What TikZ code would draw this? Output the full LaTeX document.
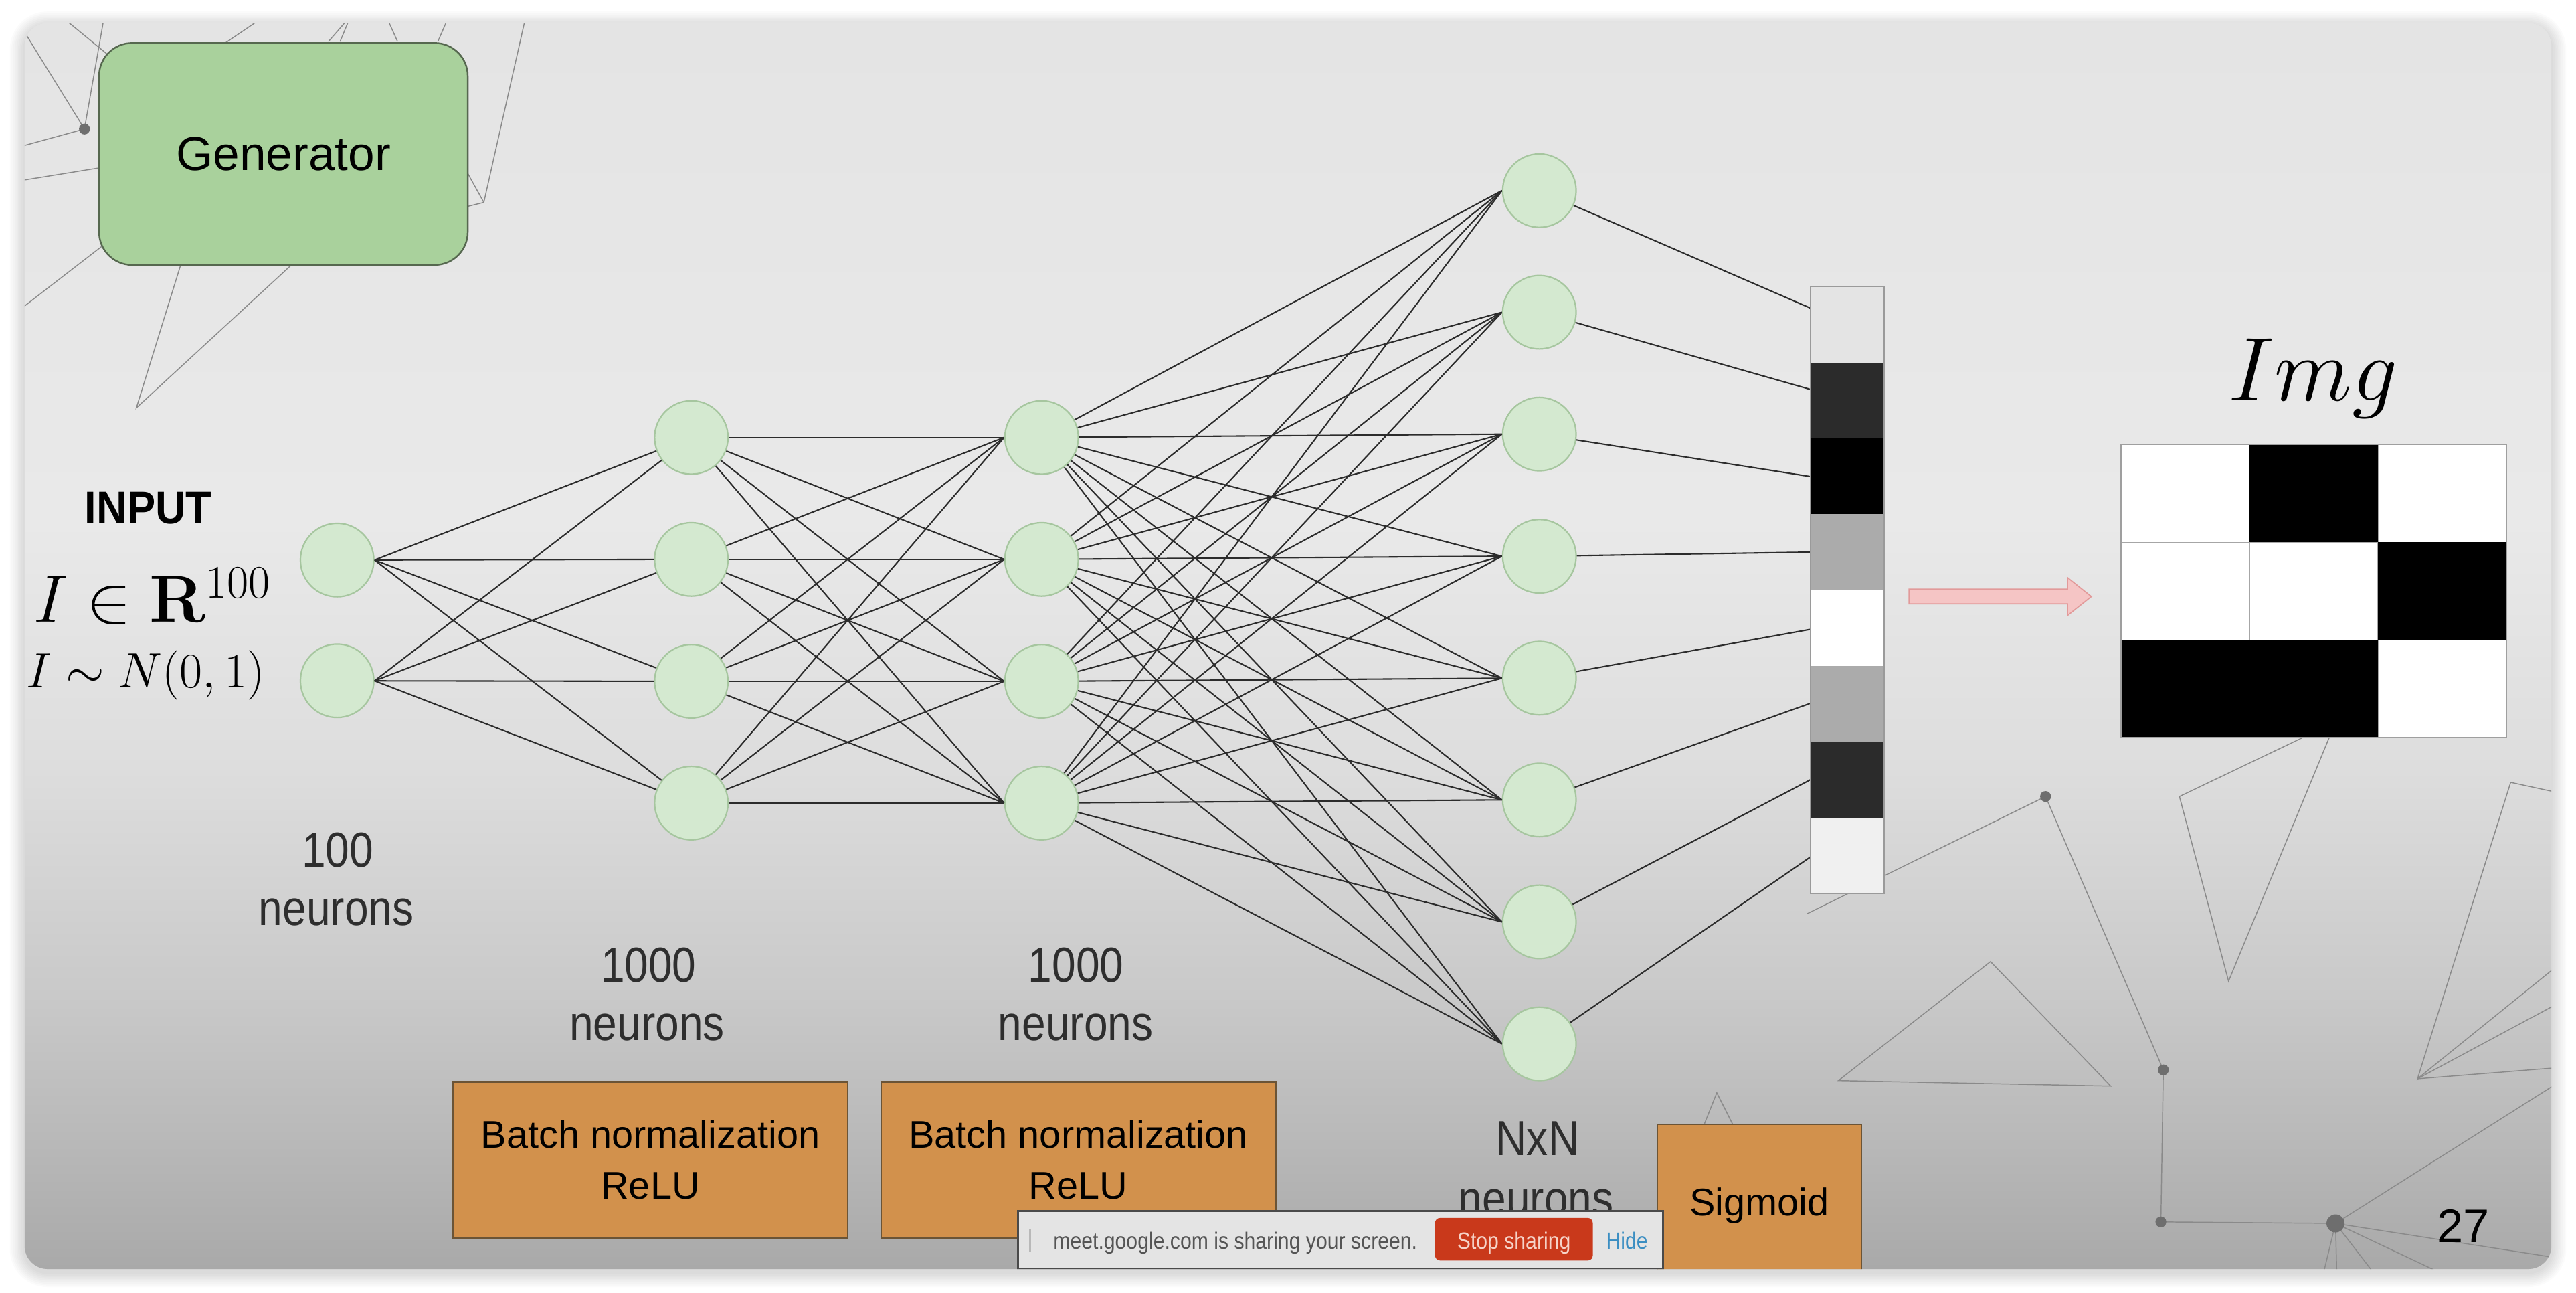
\RequirePackage{fix-cm}
\documentclass[tikz,border=0pt]{standalone}
\usepackage[no-math]{fontspec}
\newfontfamily\arial{Liberation Sans}
\newfontfamily\arialn[FakeStretch=0.87]{Liberation Sans}
\newfontfamily\arialbn[FakeStretch=0.92]{Liberation Sans}
\newfontfamily\meetf[FakeStretch=0.86]{Liberation Sans}
\definecolor{bgA}{HTML}{A9A9A9}
\definecolor{bgB}{HTML}{B8B8B8}
\definecolor{bgC}{HTML}{C9C9C9}
\definecolor{bgD}{HTML}{DDDDDD}
\definecolor{bgE}{HTML}{E9E9E9}
\definecolor{bgF}{HTML}{E4E4E4}
\definecolor{neurfill}{HTML}{D4E9D0}
\definecolor{neurdraw}{HTML}{A6C69F}
\definecolor{edgecol}{HTML}{2C2C2C}
\definecolor{decocol}{HTML}{8A8A8A}
\definecolor{dotcol}{HTML}{6E6E6E}
\definecolor{genfill}{HTML}{A9D19C}
\definecolor{gendraw}{HTML}{56684F}
\definecolor{oboxfill}{HTML}{D2914C}
\definecolor{oboxdraw}{HTML}{6B5436}
\definecolor{lblcol}{HTML}{2E2E2E}
\definecolor{barline}{HTML}{9A9A9A}
\definecolor{cellA}{HTML}{E4E4E4}
\definecolor{cellB}{HTML}{2B2B2B}
\definecolor{cellC}{HTML}{ABABAB}
\definecolor{cellD}{HTML}{F0F0F0}
\definecolor{pinkfill}{HTML}{F5C5C5}
\definecolor{pinkdraw}{HTML}{E29A9A}
\definecolor{meetfill}{HTML}{E4E4E4}
\definecolor{meetdraw}{HTML}{4A4A4A}
\definecolor{meettext}{HTML}{555555}
\definecolor{stopred}{HTML}{C9391B}
\definecolor{stoptext}{HTML}{F6D3C8}
\definecolor{hideblue}{HTML}{3B8EC2}
\pgfdeclareverticalshading{slidebg}{100bp}{color(0bp)=(bgA); color(25bp)=(bgA); color(30bp)=(bgB); color(36bp)=(bgC); color(45bp)=(bgD); color(55bp)=(bgE); color(75bp)=(bgF); color(100bp)=(bgF)}
\begin{document}
\begin{tikzpicture}[x=1pt,y=-1pt,
  neuron/.style={circle, minimum size=45pt, inner sep=0pt, fill=neurfill, draw=neurdraw, line width=0.6pt},
  edge/.style={draw=edgecol, line width=0.85pt},
  deco/.style={draw=decocol, line width=0.6pt},
  decodot/.style={fill=dotcol},
  obox/.style={draw=oboxdraw, fill=oboxfill, line width=1pt, inner sep=0pt, align=center, minimum width=240.2pt, minimum height=95.2pt, font=\arial\fontsize{23.5}{31}\selectfont},
  lbl/.style={font=\arialn\fontsize{30}{36}\selectfont, text=lblcol, inner sep=0pt, anchor=base},
  mathlbl/.style={inner sep=0pt, anchor=base west},
  meettxt/.style={font=\meetf\fontsize{14.3}{16}\selectfont, inner sep=0pt, anchor=base west}
]
\useasboundingbox (0,0) rectangle (1568,786.8);
\fill[white] (0,0) rectangle (1568,786.8);
% shadow
\foreach \k in {1,...,9}
  \fill[black, opacity=0.015, rounded corners=14pt+\k pt] (15-\k,14-\k+2) rectangle (1553+\k,772.2+\k+2);
% slide background
\shade[shading=slidebg, rounded corners=14pt] (15,14) rectangle (1553,772.2);
\begin{scope}
\clip[rounded corners=14pt] (15,14) rectangle (1553,772.2);
% decorative lines top-left
\draw[deco] (39.7,12) -- (80,45);
\draw[deco] (63.1,12) -- (51.4,78.5);
\draw[deco] (16.4,21.9) -- (51.4,78.5) -- (12,89.3);
\draw[deco] (12,110) -- (80,99);
\draw[deco] (12,188.5) -- (80,136);
\draw[deco] (115,145) -- (83,248.2) -- (195,145);
\draw[deco] (130,31) -- (158,12);
\draw[deco] (199.9,25.3) -- (211.5,12);
\draw[deco] (207,25.3) -- (212.5,12);
\draw[deco] (236,12) -- (242,25.3);
\draw[deco] (266.5,25.3) -- (272.3,12);
\draw[deco] (319.6,12) -- (294.5,123.2) -- (275,88);
\draw[deco] (294.5,123.2) -- (275,128);
\fill[decodot] (51.4,78.5) circle (3.3);
% decorative lines bottom-right
\coordinate (dA) at (1245.1,484.7);
\coordinate (dB) at (1316.8,651.1);
\coordinate (dC) at (1315.3,743.6);
\coordinate (dD) at (1421.6,744.5);
\draw[deco] (dA) -- (1100,556);
\draw[deco] (dA) -- (dB) -- (dC) -- (dD);
\draw[deco] (dD) -- (1560,657);
\draw[deco] (dD) -- (1560,766);
\draw[deco] (dD) -- (1413,780);
\draw[deco] (dD) -- (1422.5,780);
\draw[deco] (dD) -- (1449,780);
\draw[deco] (dD) -- (1497,780);
\draw[deco] (1211.6,585.2) -- (1119,657.6) -- (1284.8,660.9) -- cycle;
\draw[deco] (1401.3,449) -- (1326.6,484.7) -- (1356.5,597.1) -- (1417.7,449);
\draw[deco] (1560,483) -- (1528.2,476.1) -- (1471.5,656.5) -- (1560,585);
\draw[deco] (1471.5,656.5) -- (1560,609);
\draw[deco] (1471.5,656.5) -- (1560,649.5);
\draw[deco] (1036.6,686) -- (1045,665) -- (1055.6,686);
\fill[decodot] (dA) circle (3.3);
\fill[decodot] (dB) circle (3.3);
\fill[decodot] (dC) circle (3.3);
\fill[decodot] (dD) circle (5.5);

% Generator
\node[draw=gendraw, fill=genfill, line width=1pt, rounded corners=20pt, minimum width=224.4pt, minimum height=135pt, inner sep=0pt, font=\arial\fontsize{29}{34}\selectfont] (gen) at (172.5,93.7) {Generator};

% neurons
\node[neuron] (a1) at (205.2,340.8) {};
\node[neuron] (a2) at (205.2,414.3) {};
\foreach \j/\yy in {1/266.2,2/340.4,3/414.6,4/488.7} {
  \node[neuron] (b\j) at (420.8,\yy) {};
  \node[neuron] (c\j) at (634,\yy) {};
}
\foreach \j/\yy in {1/116,2/190,3/264.2,4/338.5,5/412.7,6/486.8,7/561,8/635.2}
  \node[neuron] (d\j) at (937,\yy) {};
% bar target points
\foreach \j/\yy in {1/187.5,2/237,3/290,4/336,5/383,6/428,7/474.5,8/521.5}
  \coordinate (p\j) at (1102,\yy);
% edges
\foreach \i in {1,2} \foreach \j in {1,...,4} \draw[edge] (a\i.east) -- (b\j);
\foreach \i in {1,...,4} \foreach \j in {1,...,4} \draw[edge] (b\i) -- (c\j.west);
\foreach \i in {1,...,4} \foreach \j in {1,...,8} \draw[edge] (c\i) -- (d\j.west);
\foreach \j in {1,...,8} \draw[edge] (d\j) -- (p\j);
% redraw neurons on top
\foreach \n in {a1,a2,b1,b2,b3,b4,c1,c2,c3,c4,d1,d2,d3,d4,d5,d6,d7,d8}
  \fill[neurfill] (\n) circle (22.2);
\foreach \n in {a1,a2,b1,b2,b3,b4,c1,c2,c3,c4,d1,d2,d3,d4,d5,d6,d7,d8}
  \draw[neurdraw, line width=0.6pt] (\n) circle (22.2);

% output bar
\foreach \j/\col in {1/cellA,2/cellB,3/black,4/cellC,5/white,6/cellC,7/cellB,8/cellD}
  \path[fill=\col] (1102,174.5+46.16*\j-46.16) rectangle (1147,174.5+46.16*\j);
\node[draw=barline, line width=0.8pt, minimum width=45pt, minimum height=369.3pt, inner sep=0pt] (bar) at (1124.5,359.15) {};

% pink arrow
\filldraw[fill=pinkfill, draw=pinkdraw, line width=0.7pt] (1162,358.5) -- (1258.5,358.5) -- (1258.5,351.5) -- (1273,363) -- (1258.5,374.5) -- (1258.5,367.5) -- (1162,367.5) -- cycle;

% image grid
\foreach \cx/\cy in {0/0,2/0,0/1,1/1,2/2}
  \path[fill=white, draw=gray!70, line width=0.6pt] (1291+78.2*\cx,270.5+59.5*\cy) rectangle (1291+78.2*\cx+78.2,270.5+59.5*\cy+59.5);
\foreach \cx/\cy in {1/0,2/1,0/2,1/2}
  \path[fill=black] (1291+78.2*\cx,270.5+59.5*\cy) rectangle (1291+78.2*\cx+78.2,270.5+59.5*\cy+59.5);
\node[draw=gray!75, line width=0.8pt, minimum width=234.6pt, minimum height=178.5pt, inner sep=0pt] (img) at (1408.3,359.75) {};
\node[inner sep=0pt, anchor=base, font=\fontsize{55}{60}\selectfont] (imgt) at (1408,243.8) {$Img$};

% input texts
\node[inner sep=0pt, anchor=base, font=\arialbn\bfseries\fontsize{28}{32}\selectfont] (inp) at (90.3,318.6) {INPUT};
\node[mathlbl, font=\fontsize{40.7}{46}\selectfont] (ir) at (20.5,378.6) {$I \in \mathbf{R}^{100}$};
\node[mathlbl, font=\fontsize{30.2}{34}\selectfont] (in) at (16,418.5) {$I \sim N(0,1)$};

% layer labels
\node[lbl] (l1a) at (205.6,527.8) {100};
\node[lbl] (l1b) at (204.7,562.9) {neurons};
\node[lbl] (l2a) at (394.8,597.8) {1000};
\node[lbl] (l2b) at (393.8,633.3) {neurons};
\node[lbl] (l3a) at (655,597.8) {1000};
\node[lbl] (l3b) at (654.8,633.3) {neurons};
\node[lbl] (l4a) at (935.9,703.2) {NxN};
\node[lbl] (l4b) at (935,739.6) {neurons};

% orange boxes
\node[obox] (bn1) at (395.9,705.9) {Batch normalization\\ReLU};
\node[obox] (bn2) at (656.4,705.9) {Batch normalization\\ReLU};
\path[draw=oboxdraw, fill=oboxfill, line width=1pt] (1008.7,790) -- (1008.7,684.2) -- (1133,684.2) -- (1133,790);
\node[inner sep=0pt, anchor=base, font=\arial\fontsize{23.5}{28}\selectfont] (sig) at (1070.9,740) {Sigmoid};

% page number
\node[inner sep=0pt, anchor=base, font=\arial\fontsize{28.7}{32}\selectfont] (pg) at (1499.4,756) {27};

% meet sharing bar
\node[draw=meetdraw, fill=meetfill, line width=1pt, minimum width=392.7pt, minimum height=35pt, inner sep=0pt] (meet) at (815.95,754.4) {};
\draw[gray!55, line width=1.6pt] (627,748) -- (627,762);
\node[meettxt, text=meettext] (mtxt) at (641,760.2) {meet.google.com is sharing your screen.};
\node[fill=stopred, rounded corners=3pt, minimum width=96pt, minimum height=25.8pt, inner sep=0pt] (stop) at (921.5,754.1) {};
\node[meettxt, anchor=base, text=stoptext] (stopt) at (921.5,760.2) {Stop sharing};
\node[meettxt, text=hideblue] (hide) at (977.5,760.2) {Hide};
\end{scope}
\end{tikzpicture}
\end{document}
